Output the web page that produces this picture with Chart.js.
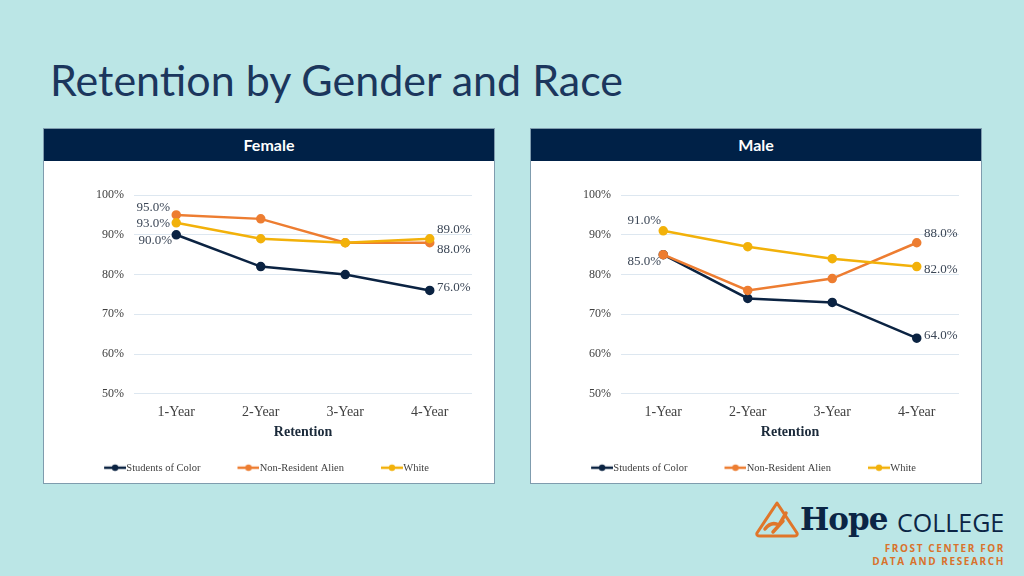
<!DOCTYPE html>
<html>
<head>
<meta charset="utf-8">
<script src="https://cdn.jsdelivr.net/npm/chart.js@4"></script>
<style>
  body { margin: 0; width: 1024px; height: 576px; background: #bbe6e6; position: relative; overflow: hidden; font-family: "Lato", sans-serif; }
  h1 { position: absolute; left: 50px; top: 54px; margin: 0; font-weight: 400; font-size: 43px; color: #1b365d; font-family: "Lato", sans-serif; }
  .panel { position: absolute; top: 128px; width: 450px; height: 354px; background: #fff; border: 1px solid #7f9cae; }
  .panel .head { height: 32px; background: #002147; color: #fff; font-weight: 700; font-size: 16px; text-align: center; line-height: 32px; }
  .panel .box { position: relative; width: 450px; height: 322px; }
  .logo { position: absolute; left: 750px; top: 496px; width: 260px; height: 76px; }
  .logo .hope { position: absolute; left: 50px; top: 5px; font-family: "DejaVu Serif", serif; font-weight: 700; font-size: 31px; color: #0b2545; letter-spacing: -1px; }
  .logo .college { position: absolute; left: 147px; top: 9px; font-family: "Open Sans", sans-serif; font-size: 25px; color: #0b2545; }
  .logo .frost { position: absolute; right: 5px; font-family: "Open Sans", sans-serif; font-weight: 700; font-size: 10px; letter-spacing: 1.6px; color: #d9722c; text-align: right; white-space: nowrap; }
</style>
</head>
<body>
<h1>Retention by Gender and Race</h1>

<div class="panel" style="left:43px">
  <div class="head">Female</div>
  <div class="box"><canvas id="female"></canvas></div>
</div>
<div class="panel" style="left:530px">
  <div class="head">Male</div>
  <div class="box"><canvas id="male"></canvas></div>
</div>

<div class="logo">
  <svg width="48" height="40" style="position:absolute;left:3px;top:3px" viewBox="0 0 48 40">
    <path d="M24 4 L44 34 Q45 37 41 37 L7 37 Q3 37 4 34 Z" fill="none" stroke="#e0762a" stroke-width="3" stroke-linejoin="round"/>
    <path d="M12 30 Q18 22 26 26 L33 14 M20 33 L30 22" fill="none" stroke="#e0762a" stroke-width="3.5" stroke-linecap="round"/>
  </svg>
  <div class="hope">Hope</div>
  <div class="college">COLLEGE</div>
  <div class="frost" style="top:45px">FROST CENTER FOR</div>
  <div class="frost" style="top:58px">DATA AND RESEARCH</div>
</div>

<script>
const years = ['1-Year', '2-Year', '3-Year', '4-Year'];
const seriesNames = ['Students of Color', 'Non-Resident Alien', 'White'];
const yTicks = [50, 60, 70, 80, 90, 100];

const femaleColor = [90, 82, 80, 76];
const femaleAlien = [95, 94, 88, 88];
const femaleWhite = [93, 89, 88, 89];

const maleColor = [85, 74, 73, 64];
const maleAlien = [85, 76, 79, 88];
const maleWhite = [91, 87, 84, 82];

const colors = ['#0b2342', '#ed7d31', '#f2b10a'];
const serif = '"Liberation Serif", "Times New Roman", serif';

// small line+dot icon for the legend, blank on the left so the text sits close
function legendIcon(color) {
    const c = document.createElement('canvas');
    c.width = 44; c.height = 12;
    const g = c.getContext('2d');
    g.strokeStyle = color;
    g.lineWidth = 2.5;
    g.beginPath(); g.moveTo(22, 6); g.lineTo(44, 6); g.stroke();
    g.fillStyle = color;
    g.beginPath(); g.arc(33, 6, 3.2, 0, Math.PI * 2); g.fill();
    return c;
}

const pointLabels = {
    id: 'pointLabels',
    afterDatasetsDraw(chart) {
        const ctx = chart.ctx;
        ctx.save();
        ctx.font = '13px ' + serif;
        ctx.fillStyle = '#3b4656';
        ctx.textAlign = 'center';
        ctx.textBaseline = 'middle';
        chart.data.datasets.forEach((ds, i) => {
            const meta = chart.getDatasetMeta(i);
            Object.entries(ds.labelAt || {}).forEach(([idx, off]) => {
                const pt = meta.data[idx];
                ctx.fillText(ds.data[idx].toFixed(1) + '%', pt.x + off[0], pt.y + off[1]);
            });
        });
        ctx.restore();
    }
};

function makeChart(id, values, labelAt) {
    const datasets = values.map((v, i) => ({
        label: seriesNames[i],
        data: v,
        borderColor: colors[i],
        backgroundColor: colors[i],
        borderWidth: 2.5,
        pointRadius: 3.5,
        pointHoverRadius: 4,
        order: 3 - i,
        labelAt: labelAt[i]
    }));

    return new Chart(document.getElementById(id), {
        type: 'line',
        data: { labels: years, datasets: datasets },
        plugins: [pointLabels],
        options: {
            responsive: true,
            maintainAspectRatio: false,
            animation: false,
            layout: { padding: { top: 34, right: 22, left: 0, bottom: 0 } },
            plugins: {
                tooltip: { enabled: false },
                legend: {
                    position: 'bottom',
                    labels: {
                        usePointStyle: true,
                        pointStyleWidth: 34,
                        padding: 20,
                        font: { family: serif, size: 10.5 },
                        color: '#404040',
                        generateLabels: chart => chart.data.datasets.map((ds, i) => ({
                            text: ds.label,
                            pointStyle: legendIcon(ds.borderColor),
                            fillStyle: ds.borderColor,
                            strokeStyle: ds.borderColor,
                            lineWidth: 0,
                            hidden: false,
                            datasetIndex: i,
                            fontColor: '#404040'
                        }))
                    }
                }
            },
            scales: {
                x: {
                    offset: true,
                    grid: { display: false, drawTicks: false },
                    border: { display: false },
                    ticks: { font: { family: serif, size: 14 }, color: '#404040', padding: 10 },
                    title: {
                        display: true,
                        text: 'Retention',
                        font: { family: serif, size: 14, weight: 'bold' },
                        color: '#1b2a3a',
                        padding: { top: -7, bottom: 2 }
                    }
                },
                y: {
                    min: yTicks[0],
                    max: yTicks[yTicks.length - 1],
                    afterFit: s => { s.width = 90; },
                    afterBuildTicks: s => { s.ticks = yTicks.map(v => ({ value: v })); },
                    grid: { color: '#dde7f0', drawTicks: false, lineWidth: 1 },
                    border: { display: false },
                    ticks: { font: { family: serif, size: 12 }, color: '#404040', padding: 10, callback: v => v + '%' }
                }
            }
        }
    });
}

makeChart('female', [femaleColor, femaleAlien, femaleWhite], [
    { 0: [-21, 6], 3: [24, -3] },
    { 0: [-23, -7], 3: [24, 7] },
    { 0: [-23, 1], 3: [24, -9] }
]);

makeChart('male', [maleColor, maleAlien, maleWhite], [
    { 0: [-19, 7], 3: [24, -3] },
    { 3: [24, -9] },
    { 0: [-19, -10], 3: [24, 3] }
]);
</script>
</body>
</html>
